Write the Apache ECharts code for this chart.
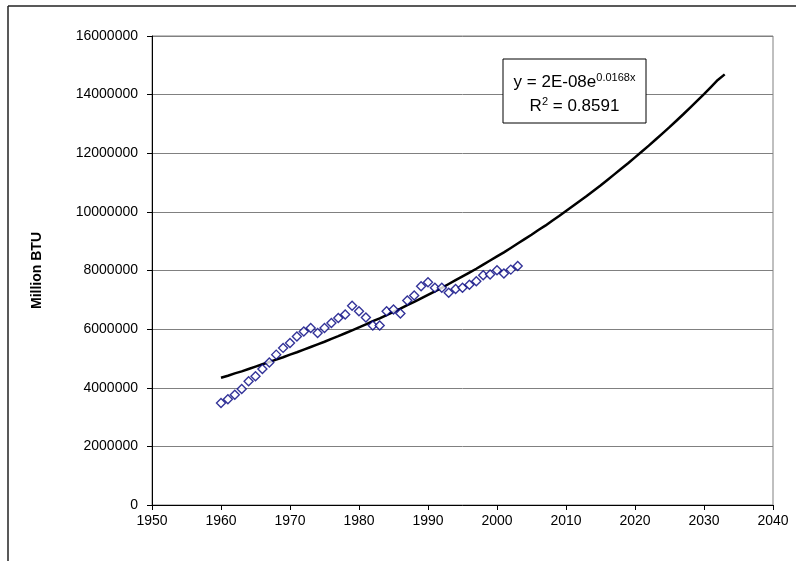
<!DOCTYPE html>
<html>
<head>
<meta charset="utf-8">
<script src="https://cdn.jsdelivr.net/npm/echarts@6/dist/echarts.min.js"></script>
<style>html,body{margin:0;padding:0;background:#fff;}#c{width:796px;height:561px;}</style>
</head>
<body>
<div id="c"></div>
<script>
const obsYears = [1960,1961,1962,1963,1964,1965,1966,1967,1968,1969,1970,1971,1972,1973,1974,1975,1976,1977,1978,1979,1980,1981,1982,1983,1984,1985,1986,1987,1988,1989,1990,1991,1992,1993,1994,1995,1996,1997,1998,1999,2000,2001,2002,2003];
const obsValues = [3480000,3610000,3760000,3960000,4220000,4390000,4640000,4860000,5130000,5360000,5530000,5750000,5920000,6040000,5870000,6040000,6210000,6380000,6500000,6800000,6610000,6400000,6120000,6120000,6610000,6670000,6530000,6980000,7150000,7460000,7600000,7410000,7410000,7240000,7370000,7410000,7510000,7630000,7840000,7860000,8010000,7900000,8030000,8150000];

// Trend line values
const trendYears = [1960,1961,1962,1963,1964,1965,1966,1967,1968,1969,1970,1971,1972,1973,1974,1975,1976,1977,1978,1979,1980,1981,1982,1983,1984,1985,1986,1987,1988,1989,1990,1991,1992,1993,1994,1995,1996,1997,1998,1999,2000,2001,2002,2003,2004,2005,2006,2007,2008,2009,2010,2011,2012,2013,2014,2015,2016,2017,2018,2019,2020,2021,2022,2023,2024,2025,2026,2027,2028,2029,2030,2031,2032,2033];
const trendValues = [4340000,4410000,4490000,4560000,4640000,4720000,4800000,4880000,4960000,5040000,5130000,5210000,5300000,5390000,5480000,5570000,5670000,5760000,5860000,5960000,6060000,6160000,6270000,6370000,6480000,6590000,6700000,6820000,6930000,7050000,7170000,7290000,7410000,7540000,7670000,7800000,7930000,8060000,8200000,8340000,8480000,8620000,8770000,8920000,9070000,9220000,9380000,9530000,9700000,9860000,10030000,10200000,10370000,10540000,10720000,10900000,11090000,11280000,11470000,11660000,11860000,12060000,12260000,12470000,12680000,12890000,13110000,13330000,13560000,13790000,14020000,14260000,14500000,14690000];

const yAxisTitle = "Million BTU";
const eqMain = "y = 2E-08e";
const eqExp = "0.0168x";
const r2Value = "0.8591";

const chart = echarts.init(document.getElementById('c'), null, {renderer: 'canvas'});
const FONT = '"Liberation Sans", Arial, sans-serif';
chart.setOption({
  animation: false,
  backgroundColor: '#ffffff',
  grid: {left: 152, top: 36, right: 23, bottom: 56, show: true, borderColor: '#808080', borderWidth: 1, backgroundColor: 'transparent'},
  xAxis: {
    type: 'value', min: 1950, max: 2040, interval: 10,
    axisLine: {show: true, onZero: false, lineStyle: {color: '#000', width: 1}},
    axisTick: {show: true, inside: false, length: 5, lineStyle: {color: '#000'}},
    axisLabel: {color: '#000', fontFamily: FONT, fontSize: 14, margin: 9, formatter: v => String(v)},
    splitLine: {show: false}
  },
  yAxis: {
    type: 'value', min: 0, max: 16000000, interval: 2000000,
    name: yAxisTitle, nameLocation: 'middle', nameGap: 108,
    nameTextStyle: {color: '#000', fontFamily: FONT, fontSize: 14, fontWeight: 'bold'},
    axisLine: {show: true, lineStyle: {color: '#000', width: 1}},
    axisTick: {show: true, inside: false, length: 5, lineStyle: {color: '#000'}},
    axisLabel: {color: '#000', fontFamily: FONT, fontSize: 14, margin: 14, formatter: v => String(v)},
    splitLine: {show: true, lineStyle: {color: '#808080', width: 1}}
  },
  series: [
    {
      type: 'line', name: 'trend',
      data: trendYears.map((y, i) => [y, trendValues[i]]),
      showSymbol: false, symbol: 'none',
      lineStyle: {color: '#000', width: 2.5},
      z: 3
    },
    {
      type: 'scatter', name: 'obs',
      data: obsYears.map((y, i) => [y, obsValues[i]]),
      symbol: 'diamond', symbolSize: [9, 9],
      itemStyle: {color: '#ffffff', borderColor: '#000080', borderWidth: 1.4},
      z: 4
    }
  ],
  graphic: [
    {type: 'line', shape: {x1: 8, y1: 6, x2: 796, y2: 6}, style: {stroke: '#222', lineWidth: 1.5}, z: 10},
    {type: 'line', shape: {x1: 8, y1: 6, x2: 8, y2: 561}, style: {stroke: '#222', lineWidth: 1.5}, z: 10},
    {type: 'rect', shape: {x: 503, y: 59, width: 143, height: 64}, style: {fill: '#fff', stroke: '#000', lineWidth: 1}, z: 20},
    {type: 'text', x: 574.5, y: 82, z: 21,
      style: {text: '{m|' + eqMain + '}{s|' + eqExp + '}', align: 'center', verticalAlign: 'middle',
        rich: {m: {fontFamily: FONT, fontSize: 17, fill: '#000'}, s: {fontFamily: FONT, fontSize: 11, fill: '#000', padding: [0,0,9,0]}}}},
    {type: 'text', x: 574.5, y: 106, z: 21,
      style: {text: '{m|R}{s|2}{m| = ' + r2Value + '}', align: 'center', verticalAlign: 'middle',
        rich: {m: {fontFamily: FONT, fontSize: 17, fill: '#000'}, s: {fontFamily: FONT, fontSize: 11, fill: '#000', padding: [0,0,9,0]}}}}
  ]
});
</script>
</body>
</html>
